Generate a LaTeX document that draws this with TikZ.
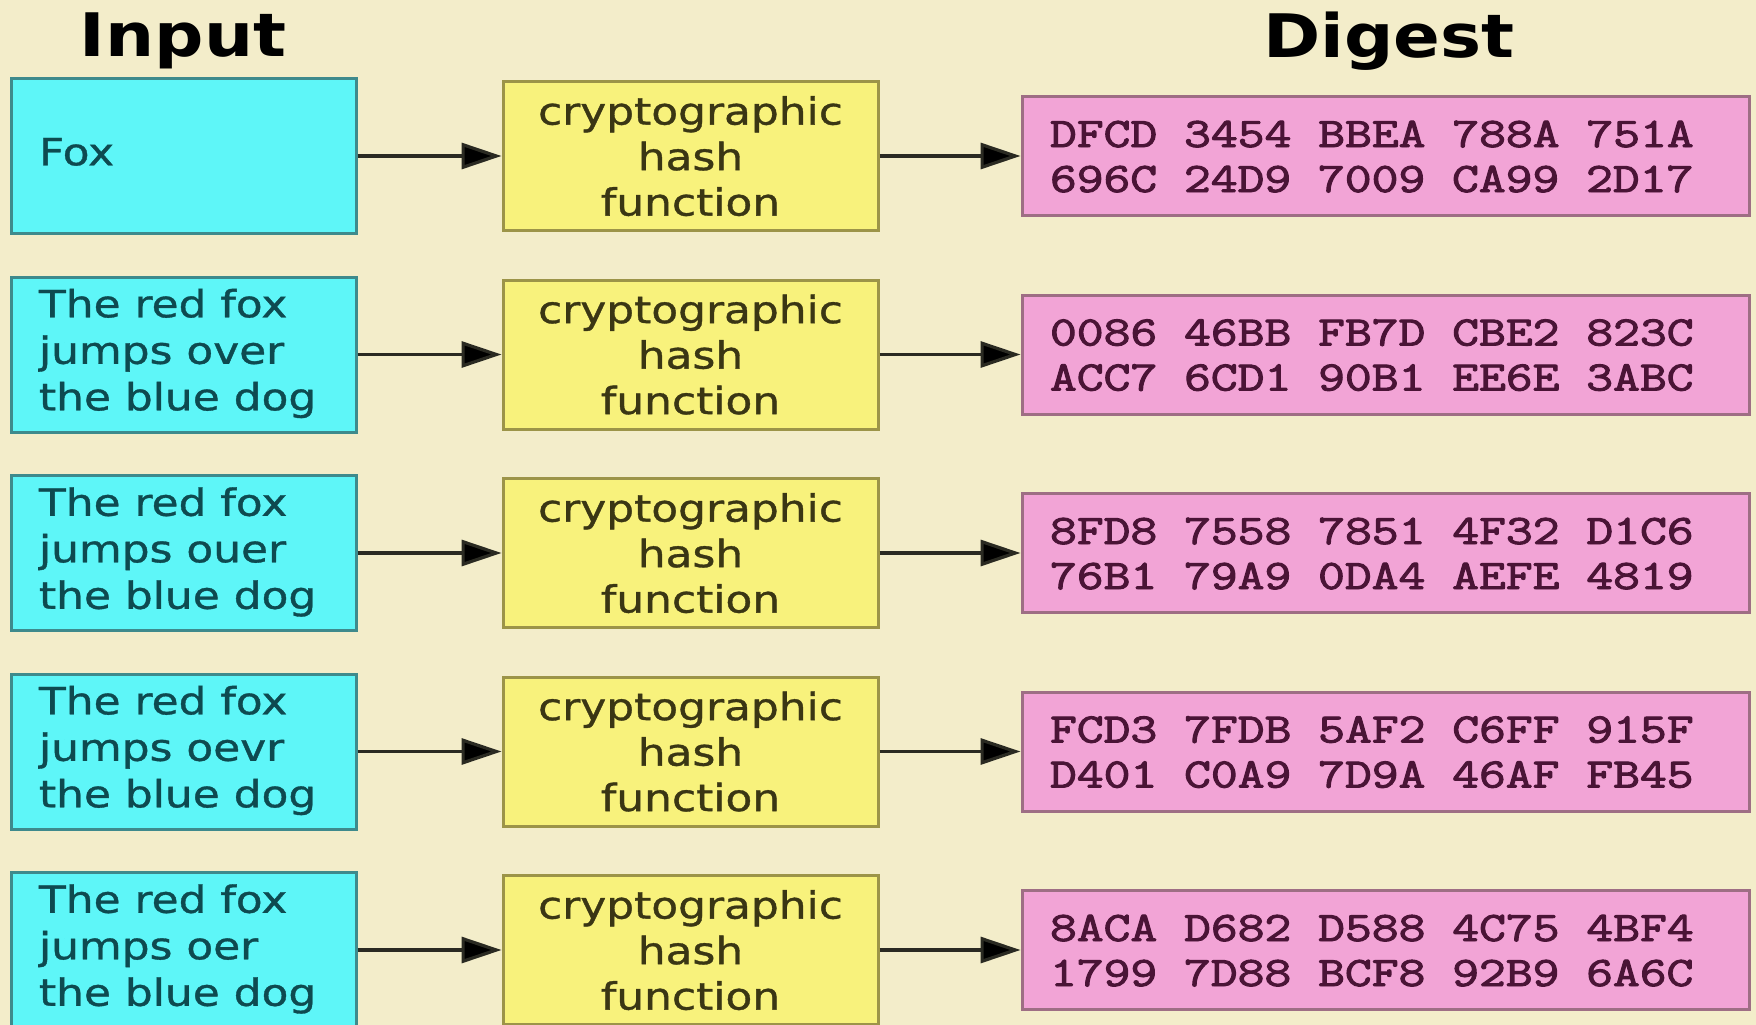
\documentclass[tikz,border=0pt]{standalone}
\usepackage{fontspec}
\setmainfont{DejaVu Sans}
\newfontfamily\bodyfont{DejaVu Sans}[FakeBold=0.9]
\newfontfamily\hexfont{Latin Modern Mono}[FakeBold=2.2]
\usepackage{graphicx}
\usetikzlibrary{arrows.meta}

\definecolor{bgcol}{HTML}{F3EDCA}
\definecolor{cyanfill}{HTML}{5EF6F8}
\definecolor{cyanedge}{HTML}{3E8A8C}
\definecolor{cyantext}{HTML}{0E4A50}
\definecolor{yelfill}{HTML}{F8F27C}
\definecolor{yeledge}{HTML}{9C9448}
\definecolor{yeltext}{HTML}{3A3614}
\definecolor{pinkfill}{HTML}{F2A4D6}
\definecolor{pinkedge}{HTML}{9E6E84}
\definecolor{pinktext}{HTML}{4A1436}
\definecolor{linecol}{HTML}{2A2A22}

% widened multi-line text block
\newcommand{\widetext}[3][1.17]{\scalebox{#1}[1]{\begin{tabular}{@{}#2@{}}#3\end{tabular}}}
% lower a block without changing its reported size
\newcommand{\lowerby}[2]{\raisebox{-#1}[\height][\depth]{#2}}

\tikzset{
  inbox/.style={draw=cyanedge, fill=cyanfill, line width=3pt, inner sep=0pt,
    minimum width=345pt, minimum height=155pt, text=cyantext,
    font=\bodyfont\fontsize{37.5}{46.5}\selectfont},
  hashbox/.style={draw=yeledge, fill=yelfill, line width=3pt, inner sep=0pt,
    minimum width=375pt, minimum height=149pt, text=yeltext,
    font=\bodyfont\fontsize{37.5}{45.5}\selectfont},
  digestbox/.style={draw=pinkedge, fill=pinkfill, line width=3pt, inner sep=0pt,
    minimum width=727pt, minimum height=119pt, text=pinktext,
    font=\hexfont\fontsize{42}{45}\selectfont},
  flow/.style={draw=linecol, line width=3.2pt, -{Triangle[length=40pt,width=26pt,fill=black]}},
  heading/.style={inner sep=0pt, font=\bfseries\fontsize{60}{62}\selectfont}
}

\begin{document}
\begin{tikzpicture}[x=1pt,y=-1pt]
  \fill[bgcol] (0,0) rectangle (1756,1025);
  \useasboundingbox (0,0) rectangle (1756,1025);
  \clip (0,0) rectangle (1756,1025);

  \node[heading] (inputhead) at (183,41) {\scalebox{1.15}[1]{Input}};
  \node[heading] (digesthead) at (1389,41) {\scalebox{1.15}[1]{Digest}};

  \foreach \msg/\hex [count=\i from 0] in {
      {Fox}/{DFCD 3454 BBEA 788A 751A\\696C 24D9 7009 CA99 2D17},
      {The red fox\\jumps over\\the blue dog}/{0086 46BB FB7D CBE2 823C\\ACC7 6CD1 90B1 EE6E 3ABC},
      {The red fox\\jumps ouer\\the blue dog}/{8FD8 7558 7851 4F32 D1C6\\76B1 79A9 0DA4 AEFE 4819},
      {The red fox\\jumps oevr\\the blue dog}/{FCD3 7FDB 5AF2 C6FF 915F\\D401 C0A9 7D9A 46AF FB45},
      {The red fox\\jumps oer\\the blue dog}/{8ACA D682 D588 4C75 4BF4\\1799 7D88 BCF8 92B9 6A6C}}
  {
    \pgfmathsetmacro\yy{156+198.5*\i}
    \node[inbox] (in\i) at (183.5,\yy) {\hbox to 289pt{\widetext{l}{\msg}\hfil}};
    \node[hashbox] (hash\i) at (690.5,\yy) {\lowerby{5pt}{\widetext{c}{cryptographic\\hash\\function}}};
    \node[digestbox] (dig\i) at (1385.5,\yy) {\hbox to 671pt{\lowerby{4.5pt}{\widetext[1.24]{l}{\hex}}\hfil}};
    \draw[flow] (in\i) -- (hash\i);
    \draw[flow] (hash\i) -- (dig\i);
  }
\end{tikzpicture}
\end{document}
